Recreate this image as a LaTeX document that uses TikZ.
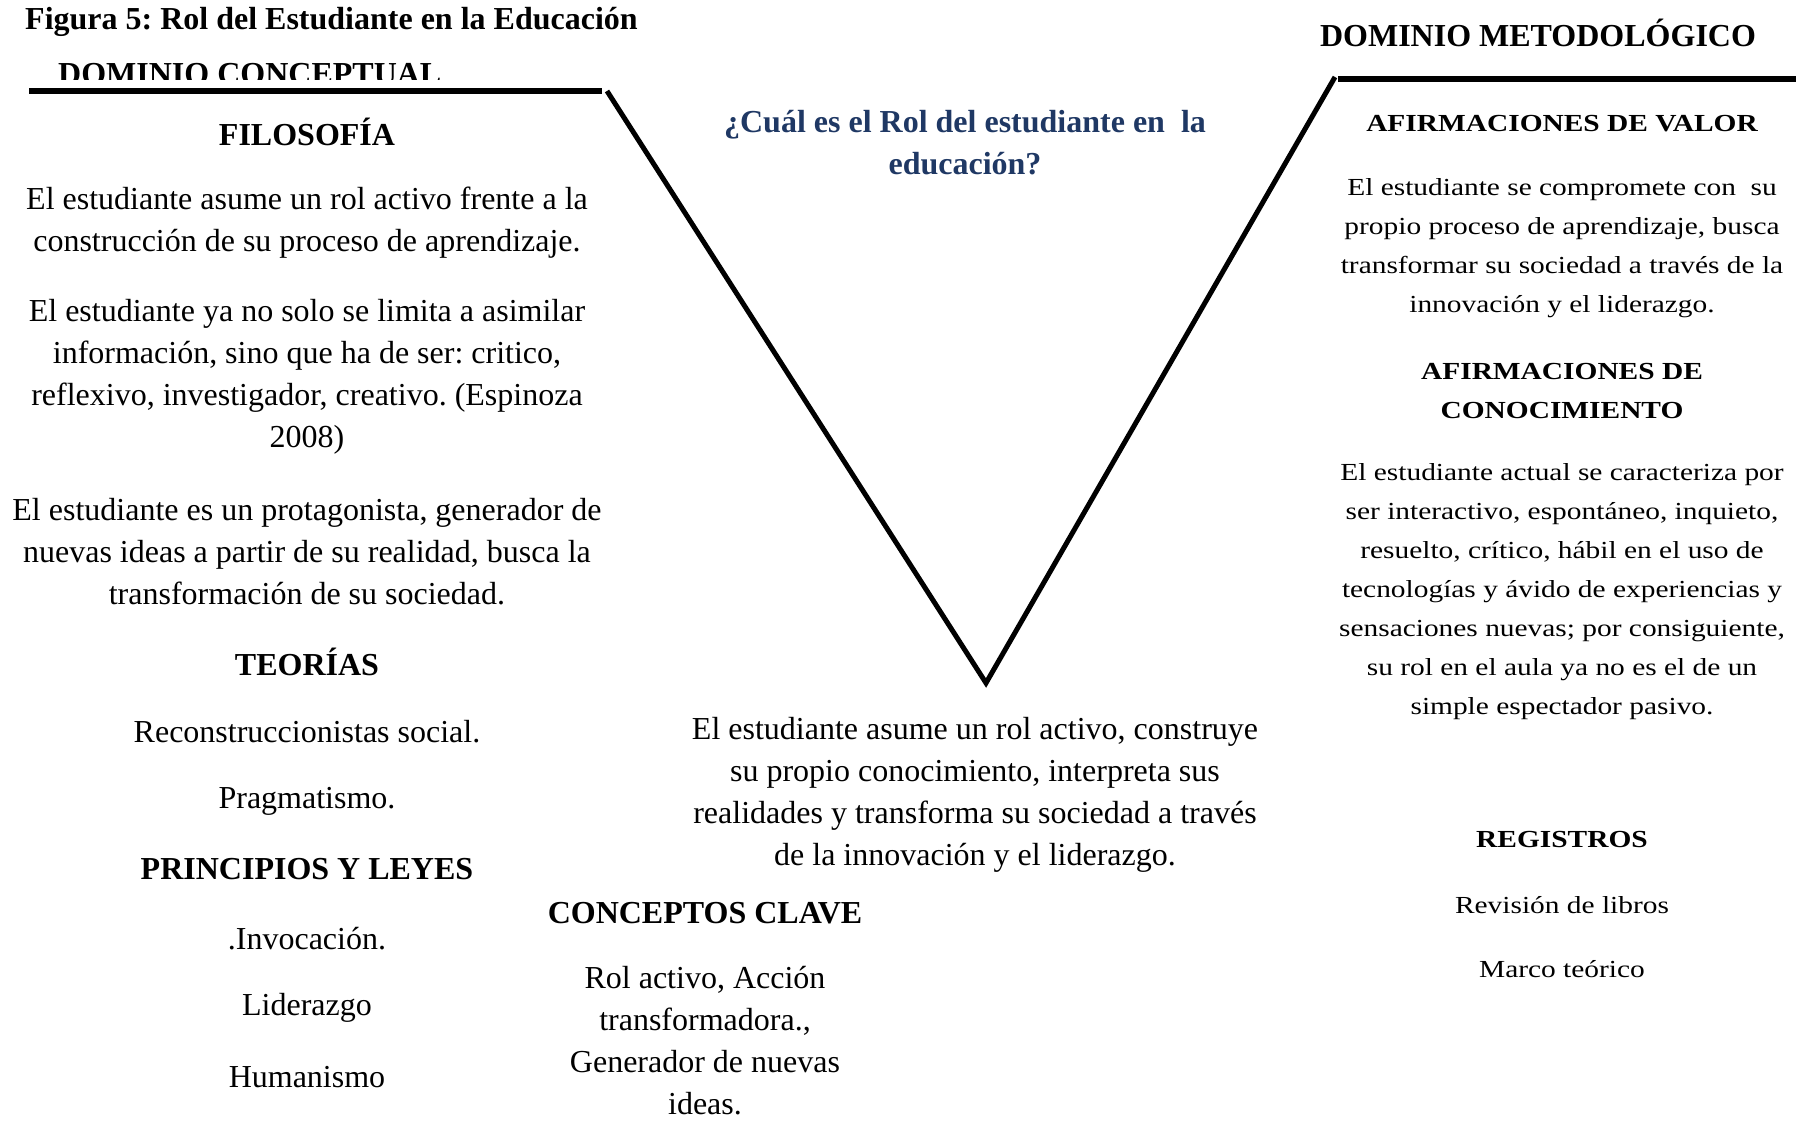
\documentclass[tikz,border=0pt]{standalone}
\usepackage{fontspec}
\setmainfont{Liberation Serif}
\newfontfamily\rightfont[FakeStretch=1.2]{Liberation Serif}
\definecolor{qblue}{HTML}{1F3864}
\frenchspacing
\begin{document}
\frenchspacing
\begin{tikzpicture}[x=1pt,y=-1pt,
  lefttxt/.style={align=center,inner sep=0pt,font=\frenchspacing\fontsize{32}{42}\selectfont},
  lefthead/.style={align=center,inner sep=0pt,font=\frenchspacing\bfseries\fontsize{32}{42}\selectfont},
  righttxt/.style={align=center,inner sep=0pt,font=\frenchspacing\rightfont\fontsize{24.5}{39}\selectfont},
  righthead/.style={align=center,inner sep=0pt,font=\frenchspacing\rightfont\bfseries\fontsize{24.5}{39}\selectfont},
  question/.style={align=center,inner sep=0pt,text=qblue,font=\frenchspacing\bfseries\fontsize{32}{42}\selectfont},
  vline/.style={line width=5pt,draw=black},
  hline/.style={line width=6pt,draw=black}]
\useasboundingbox (0,0) rectangle (1805,1120);

% lines
\coordinate (lA) at (29,91);
\coordinate (lB) at (602,91);
\coordinate (vL) at (607,91);
\coordinate (vB) at (986,683);
\coordinate (vR) at (1335,77);
\coordinate (rA) at (1338,79);
\coordinate (rB) at (1796,79);
\draw[hline] (lA) -- (lB);
\draw[hline] (rA) -- (rB);
\draw[vline,line join=miter] (vL) -- (vB) -- (vR);

% titles
\node[lefthead,anchor=west] (title) at (25,22) {Figura 5: Rol del Estudiante en la Educación};
\begin{scope}
\clip (0,0) rectangle (1805,79);
\node[lefthead,anchor=base west] (dconc) at (58,84) {DOMINIO CONCEPTUAL};
\end{scope}
\node[lefthead] (dmet) at (1538,33) {DOMINIO METODOLÓGICO};

% question
\node[question] (q) at (965,143) {¿Cuál es el Rol del estudiante en\ \ la\\educación?};

% left column
\node[lefthead] (filo) at (307,132) {FILOSOFÍA};
\node[lefttxt] (p1) at (307,223) {El estudiante asume un rol activo frente a la\\construcción de su proceso de aprendizaje.};
\node[lefttxt] (p2) at (307,377) {El estudiante ya no solo se limita a asimilar\\información, sino que ha de ser: critico,\\reflexivo, investigador, creativo. (Espinoza\\2008)};
\node[lefttxt] (p3) at (307,552) {El estudiante es un protagonista, generador de\\nuevas ideas a partir de su realidad, busca la\\transformación de su sociedad.};
\node[lefthead] (teo) at (307,662) {TEORÍAS};
\node[lefttxt] (t1) at (307,732) {Reconstruccionistas social.};
\node[lefttxt] (t2) at (307,801) {Pragmatismo.};
\node[lefthead] (pri) at (307,869) {PRINCIPIOS Y LEYES};
\node[lefttxt] (l1) at (307,939) {.Invocación.};
\node[lefttxt] (l2) at (307,1008) {Liderazgo};
\node[lefttxt] (l3) at (307,1077) {Humanismo};

% center bottom
\node[lefttxt] (cb) at (975,795) {El estudiante asume un rol activo, construye\\su propio conocimiento, interpreta sus\\realidades y transforma su sociedad a través\\de la innovación y el liderazgo.};
\node[lefthead] (cc) at (705,913) {CONCEPTOS CLAVE};
\node[lefttxt] (ccb) at (705,1041) {Rol activo, Acción\\transformadora.,\\Generador de nuevas\\ideas.};

% right column
\node[righthead] (av) at (1562,124) {AFIRMACIONES DE VALOR};
\node[righttxt] (avb) at (1562,248) {El estudiante se compromete con\ \ su\\propio proceso de aprendizaje, busca\\transformar su sociedad a través de la\\innovación y el liderazgo.};
\node[righthead] (ac) at (1562,391) {AFIRMACIONES DE\\CONOCIMIENTO};
\node[righttxt] (acb) at (1562,592) {El estudiante actual se caracteriza por\\ser interactivo, espontáneo, inquieto,\\resuelto, crítico, hábil en el uso de\\tecnologías y ávido de experiencias y\\sensaciones nuevas; por consiguiente,\\su rol en el aula ya no es el de un\\simple espectador pasivo.};
\node[righthead] (reg) at (1562,839) {REGISTROS};
\node[righttxt] (r1) at (1562,905) {Revisión de libros};
\node[righttxt] (r2) at (1562,969) {Marco teórico};
\end{tikzpicture}
\end{document}
